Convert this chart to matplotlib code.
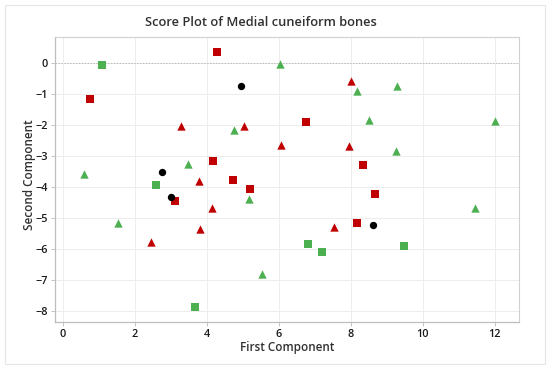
import matplotlib
matplotlib.use("Agg")
import matplotlib.pyplot as plt
from matplotlib.patches import Rectangle

plt.rcParams['font.family'] = ['Open Sans', 'DejaVu Sans']

# Data
red_sq_x = [0.75, 4.29, 4.16, 4.72, 5.20, 3.10, 6.75, 8.33, 8.66, 8.17]
red_sq_y = [-1.16, 0.34, -3.17, -3.78, -4.07, -4.47, -1.90, -3.29, -4.23, -5.18]

red_tri_x = [3.29, 5.04, 6.05, 3.79, 8.01, 7.94, 4.13, 3.80, 2.44, 7.53]
red_tri_y = [-2.05, -2.03, -2.64, -3.82, -0.59, -2.68, -4.68, -5.35, -5.78, -5.29]

green_sq_x = [1.08, 2.59, 3.66, 6.80, 7.20, 9.48]
green_sq_y = [-0.06, -3.93, -7.88, -5.84, -6.12, -5.90]

green_tri_x = [6.04, 4.74, 3.48, 0.59, 8.18, 9.29, 8.51, 11.99, 9.24, 5.17, 1.54, 5.54, 11.44]
green_tri_y = [-0.03, -2.17, -3.26, -3.59, -0.89, -0.75, -1.85, -1.86, -2.86, -4.38, -5.16, -6.82, -4.68]

black_x = [4.96, 2.75, 3.01, 8.61]
black_y = [-0.73, -3.52, -4.32, -5.22]

x_ticks = [0, 2, 4, 6, 8, 10, 12]
y_ticks = [0, -1, -2, -3, -4, -5, -6, -7, -8]

title = "Score Plot of Medial cuneiform bones"
xlabel = "First Component"
ylabel = "Second Component"

RED = "#C00000"
GREEN = "#4CAF50"

W, H = 550, 370
fig = plt.figure(figsize=(5.5, 3.7), dpi=100)
fig.patch.set_facecolor("white")
# outer frame
fig.add_artist(Rectangle((5/W, 1 - 364/H), 540/W, 359/H, transform=fig.transFigure,
                         fill=False, edgecolor="#E6E6E6", linewidth=0.8))

ax = fig.add_axes([55/W, 1 - 322/H, (519-55)/W, (322-37)/H])
ax.set_xlim(-0.22, 12.67)
ax.set_ylim(-8.37, 0.84)

ax.grid(True, color="#EDEDED", linewidth=0.7)
ax.set_axisbelow(True)
ax.axhline(0, color="#BBBBBB", linestyle=(0, (1.5, 1.5)), linewidth=0.7, zorder=1)

ms = 28
ax.scatter(red_sq_x, red_sq_y, marker="s", s=ms, color=RED, zorder=3, linewidths=0)
ax.scatter(red_tri_x, red_tri_y, marker="^", s=ms + 8, color=RED, zorder=3, linewidths=0)
ax.scatter(green_sq_x, green_sq_y, marker="s", s=ms, color=GREEN, zorder=3, linewidths=0)
ax.scatter(green_tri_x, green_tri_y, marker="^", s=ms + 8, color=GREEN, zorder=3, linewidths=0)
ax.scatter(black_x, black_y, marker="o", s=ms, color="black", zorder=3, linewidths=0)

ax.set_xticks(x_ticks)
ax.set_yticks(y_ticks)
ax.tick_params(axis="both", length=3, width=0.6, color="#BBBBBB", labelsize=7.8, labelcolor="#1A1A1A", pad=2)
for lab in ax.get_xticklabels() + ax.get_yticklabels():
    lab.set_fontweight("semibold")

for side in ["left", "bottom"]:
    ax.spines[side].set_color("#BDBDBD")
    ax.spines[side].set_linewidth(0.9)
for side in ["top", "right"]:
    ax.spines[side].set_color("#D0D0D0")
    ax.spines[side].set_linewidth(0.8)

fig.text(287/W, 1 - 347/H, xlabel, ha="center", va="center", fontsize=8.4,
         fontweight="semibold", color="#303030")
fig.text(30/W, 1 - 174.5/H, ylabel, ha="center", va="center", rotation=90, fontsize=8.4,
         fontweight="semibold", color="#303030")
fig.text(261/W, 1 - 22/H, title, ha="center", va="center", fontsize=9.3,
         fontweight="semibold", color="#303030")

fig.savefig("out.png", dpi=100, facecolor="white")
